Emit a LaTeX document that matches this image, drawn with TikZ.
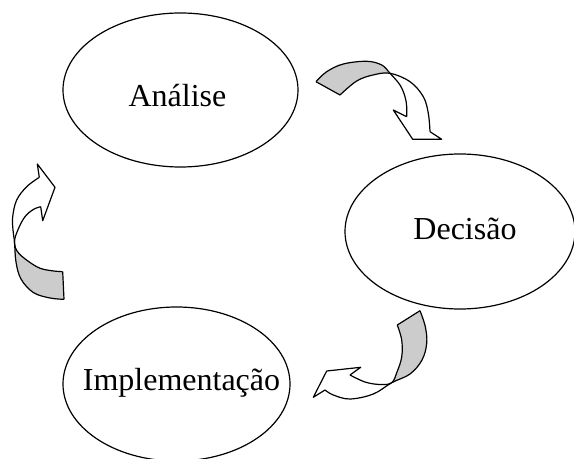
\documentclass[tikz,border=0pt]{standalone}
\usepackage{fontspec}
\setmainfont{Liberation Serif}
\usepackage{tikz}
\usetikzlibrary{shapes.geometric}
\definecolor{ribbongray}{RGB}{204,204,204}
\tikzset{
  bubble/.style={draw, ellipse, line width=0.9pt, inner sep=0pt},
  stage/.style={anchor=base, inner sep=0pt, font=\fontsize{24}{28}\selectfont},
  ribbon/.style={line width=0.9pt, line join=round},
  curl/.style={smooth, tension=0.6}
}

\begin{document}
\begin{tikzpicture}[x=0.75pt, y=-0.75pt]
  \useasboundingbox (0,0) rectangle (574,459);
  % the three stages
  \node[bubble, minimum width=176.25pt, minimum height=115.5pt] (analise) at (180.5,90) {};
  \node[stage] (analiseTxt) at (177.5,106.7) {Análise};
  \node[bubble, minimum width=172.5pt, minimum height=116.25pt] (decisao) at (460,231.5) {};
  \node[stage] (decisaoTxt) at (465,239.5) {Decisão};
  \node[bubble, minimum width=170.25pt, minimum height=115.5pt] (implem) at (176.5,384) {};
  \node[stage] (implemTxt) at (181.5,390.7) {Implementação};
  % curved arrow: Analise -> Decisao
  \fill[ribbongray] plot[curl] coordinates {(316,81.7) (326.7,71.7) (343.3,64) (366.7,61.3) (381.7,65) (390,73.3)}
    -- plot[curl] coordinates {(390,73.3) (373,75) (356.7,81) (340,95)} -- cycle;
  \draw[ribbon] plot[curl] coordinates {(316,81.7) (326.7,71.7) (343.3,64) (366.7,61.3) (381.7,65) (390,73.3) (400,85) (405,96.7) (406.7,106.7) (406.7,116.7)};
  \draw[ribbon] plot[curl] coordinates {(340,95) (356.7,81) (373,75) (390,73.3) (410,81.7) (423.3,96.7) (428.3,113.3) (430,131.7)};
  \draw[ribbon] (316,81.7) -- (340,95);
  \draw[ribbon] (406.7,116.7) -- (393.3,110) -- (412.7,139.3) -- (441.7,139.3) -- (430,131.7);
  % curved arrow: Decisao -> Implementacao
  \fill[ribbongray] plot[curl] coordinates {(420,310.7) (425.3,326.7) (426.7,343.3) (422,360) (410,374) (391.7,382.7)}
    -- plot[curl] coordinates {(391.7,382.7) (397,372) (401.7,357) (401.7,340) (397.3,325)} -- cycle;
  \draw[ribbon] plot[curl] coordinates {(420,310.7) (425.3,326.7) (426.7,343.3) (422,360) (410,374) (391.7,382.7) (373.3,394) (350,399) (333.3,395) (325,390)};
  \draw[ribbon] plot[curl] coordinates {(397.3,325) (401.7,340) (401.7,357) (397,372) (391.7,382.7) (380,384.5) (365,382) (350,375)};
  \draw[ribbon] (397.3,325) -- (420,310.7);
  \draw[ribbon] (350,375) -- (360.7,367.3) -- (326.7,371) -- (313.3,397.3) -- (325,390);
  % curved arrow: Implementacao -> Analise
  \fill[ribbongray] plot[curl] coordinates {(14.5,242) (16,262) (21,279) (33.3,292.5) (50,298) (64,299.3)}
    -- (62.7,271.7) -- plot[curl] coordinates {(62.7,271.7) (50,270.5) (36.7,266.7) (19,253.5) (14.5,242)} -- cycle;
  \draw[ribbon] plot[curl] coordinates {(39.3,177.3) (26.7,186.7) (16.7,200) (12.7,216.7) (13,230) (14.5,242) (16,262) (21,279) (33.3,292.5) (50,298) (64,299.3)};
  \draw[ribbon] plot[curl] coordinates {(40.7,206.7) (33.3,209.5) (25,216.7) (18.3,229) (14.5,242) (19,253.5) (36.7,266.7) (50,270.5) (62.7,271.7)};
  \draw[ribbon] (62.7,271.7) -- (64,299.3);
  \draw[ribbon] (39.3,177.3) -- (37.3,164) -- (55,187.3) -- (42.7,220.7) -- (40.7,206.7);
\end{tikzpicture}
\end{document}
